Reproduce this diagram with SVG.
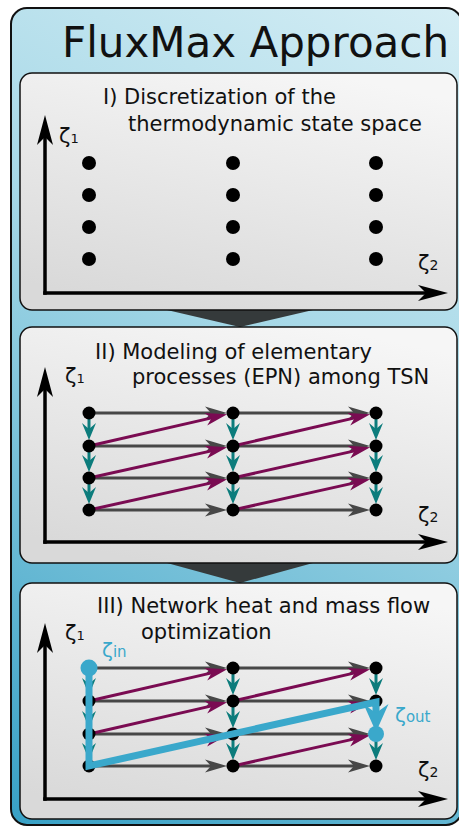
<svg xmlns="http://www.w3.org/2000/svg" width="459" height="827" viewBox="0 0 459 827">
<style>
text{font-family:"DejaVu Sans","Verdana",sans-serif;fill:#111}
.title{font-size:42px}
.h{font-size:21px}
.z{font-size:21px}
.sub{font-size:13px}
.panel{stroke:#111;stroke-width:1.5;fill:url(#pg)}
.axis{stroke:#000;stroke-width:3.5;fill:none;marker-end:url(#ma)}
.g{stroke:#474747;stroke-width:3;marker-end:url(#mg)}
.p{stroke:#7a0b52;stroke-width:3;marker-end:url(#mp)}
.t{stroke:#0c7c7c;stroke-width:3;marker-end:url(#mt)}
.n{fill:#000}
.blue{fill:#3aa8cb}
.bt{fill:#3aa8cb}
</style>
<defs>
<linearGradient id="og" gradientUnits="userSpaceOnUse" x1="459" y1="0" x2="0" y2="827">
<stop offset="0" stop-color="#d6eef5"/>
<stop offset="0.4" stop-color="#a6d8e7"/>
<stop offset="1" stop-color="#36a0c5"/>
</linearGradient>
<linearGradient id="pg" x1="0.7" y1="0" x2="0.3" y2="1">
<stop offset="0" stop-color="#f6f6f6"/>
<stop offset="1" stop-color="#d9d9d9"/>
</linearGradient>
<marker id="ma" viewBox="-31 -9 32 18" refX="-20" refY="0" markerWidth="32" markerHeight="18" markerUnits="userSpaceOnUse" orient="auto"><path d="M0,0 L-30,-8 L-22,0 L-30,8 Z" fill="#000"/></marker>
<marker id="mg" viewBox="-23 -7 24 14" refX="-8" refY="0" markerWidth="24" markerHeight="14" markerUnits="userSpaceOnUse" orient="auto"><path d="M0,0 L-22,-6.5 L-16,0 L-22,6.5 Z" fill="#474747"/></marker>
<marker id="mp" viewBox="-23 -7 24 14" refX="-8" refY="0" markerWidth="24" markerHeight="14" markerUnits="userSpaceOnUse" orient="auto"><path d="M0,0 L-22,-6.5 L-16,0 L-22,6.5 Z" fill="#7a0b52"/></marker>
<marker id="mt" viewBox="-18 -8 19 16" refX="-7" refY="0" markerWidth="19" markerHeight="16" markerUnits="userSpaceOnUse" orient="auto"><path d="M0,0 L-17,-7 L-11,0 L-17,7 Z" fill="#0c7c7c"/></marker>
<marker id="mb" viewBox="-29 -13 30 26" refX="-16" refY="0" markerWidth="30" markerHeight="26" markerUnits="userSpaceOnUse" orient="auto"><path d="M0,0 L-28,-12.5 L-19,0 L-28,12.5 Z" fill="#3aa8cb"/></marker>
</defs>

<g id="frame">
<rect x="11" y="8" width="451" height="817" rx="16" fill="url(#og)" stroke="#111" stroke-width="2"/>
<text class="title" x="62" y="57">FluxMax Approach</text>
</g>

<g id="connectors">
<polygon points="167,310 313,310 240,327" fill="#353a3b"/>
<polygon points="167,563 313,563 240,583" fill="#353a3b"/>
</g>

<g id="panel1">
<rect class="panel" x="20" y="73" width="437" height="237" rx="12"/>
<text class="h" x="103" y="104">I) Discretization of the</text>
<text class="h" x="128" y="131">thermodynamic state space</text>
<line class="axis" x1="45" y1="294.75" x2="45" y2="135"/>
<line class="axis" x1="43.25" y1="293" x2="428" y2="293"/>
<text class="z" x="59" y="143">ζ<tspan class="sub">1</tspan></text>
<text class="z" x="418" y="270">ζ<tspan font-size="14">2</tspan></text>
<g class="n">
<circle cx="89" cy="163" r="7"/><circle cx="89" cy="195" r="7"/><circle cx="89" cy="227" r="7"/><circle cx="89" cy="259" r="7"/>
<circle cx="233" cy="163" r="7"/><circle cx="233" cy="195" r="7"/><circle cx="233" cy="227" r="7"/><circle cx="233" cy="259" r="7"/>
<circle cx="376" cy="163" r="7"/><circle cx="376" cy="195" r="7"/><circle cx="376" cy="227" r="7"/><circle cx="376" cy="259" r="7"/>
</g>
</g>

<g id="panel2">
<rect class="panel" x="20" y="327" width="437" height="236" rx="12"/>
<text class="h" x="95" y="359">II) Modeling of elementary</text>
<text class="h" x="132" y="384">processes (EPN) among TSN</text>
<line class="axis" x1="45" y1="543.75" x2="45" y2="387"/>
<line class="axis" x1="43.25" y1="542" x2="428" y2="542"/>
<text class="z" x="65" y="383">ζ<tspan class="sub">1</tspan></text>
<text class="z" x="418" y="522">ζ<tspan font-size="14">2</tspan></text>
<g id="edges2">
<line class="g" x1="89" y1="413" x2="219" y2="413"/><line class="g" x1="233" y1="413" x2="362" y2="413"/>
<line class="g" x1="89" y1="446" x2="219" y2="446"/><line class="g" x1="233" y1="446" x2="362" y2="446"/>
<line class="g" x1="89" y1="478" x2="219" y2="478"/><line class="g" x1="233" y1="478" x2="362" y2="478"/>
<line class="g" x1="89" y1="510" x2="219" y2="510"/><line class="g" x1="233" y1="510" x2="362" y2="510"/>
<line class="p" x1="89" y1="446" x2="219.4" y2="416.1"/><line class="p" x1="233" y1="446" x2="362.4" y2="416.1"/>
<line class="p" x1="89" y1="478" x2="219.4" y2="449.1"/><line class="p" x1="233" y1="478" x2="362.4" y2="449.1"/>
<line class="p" x1="89" y1="510" x2="219.4" y2="481.1"/><line class="p" x1="233" y1="510" x2="362.4" y2="481.1"/>
<line class="t" x1="89" y1="413" x2="89" y2="433"/><line class="t" x1="89" y1="446" x2="89" y2="465"/><line class="t" x1="89" y1="478" x2="89" y2="497"/>
<line class="t" x1="233" y1="413" x2="233" y2="433"/><line class="t" x1="233" y1="446" x2="233" y2="465"/><line class="t" x1="233" y1="478" x2="233" y2="497"/>
<line class="t" x1="376" y1="413" x2="376" y2="433"/><line class="t" x1="376" y1="446" x2="376" y2="465"/><line class="t" x1="376" y1="478" x2="376" y2="497"/>
</g>
<g class="n">
<circle cx="89" cy="413" r="6.5"/><circle cx="89" cy="446" r="6.5"/><circle cx="89" cy="478" r="6.5"/><circle cx="89" cy="510" r="6.5"/>
<circle cx="233" cy="413" r="6.5"/><circle cx="233" cy="446" r="6.5"/><circle cx="233" cy="478" r="6.5"/><circle cx="233" cy="510" r="6.5"/>
<circle cx="376" cy="413" r="6.5"/><circle cx="376" cy="446" r="6.5"/><circle cx="376" cy="478" r="6.5"/><circle cx="376" cy="510" r="6.5"/>
</g>
</g>

<g id="panel3">
<rect class="panel" x="20" y="583" width="437" height="236" rx="12"/>
<text class="h" x="97" y="613">III) Network heat and mass flow</text>
<text class="h" x="141" y="639">optimization</text>
<line class="axis" x1="45" y1="800.75" x2="45" y2="643"/>
<line class="axis" x1="43.25" y1="799" x2="428" y2="799"/>
<text class="z" x="65" y="640">ζ<tspan class="sub">1</tspan></text>
<text class="z" x="418" y="777">ζ<tspan font-size="14">2</tspan></text>
<g id="edges3">
<line class="g" x1="89" y1="668" x2="219" y2="668"/><line class="g" x1="233" y1="668" x2="362" y2="668"/>
<line class="g" x1="89" y1="701" x2="219" y2="701"/><line class="g" x1="233" y1="701" x2="362" y2="701"/>
<line class="g" x1="89" y1="734" x2="219" y2="734"/><line class="g" x1="233" y1="734" x2="362" y2="734"/>
<line class="g" x1="89" y1="766" x2="219" y2="766"/><line class="g" x1="233" y1="766" x2="362" y2="766"/>
<line class="p" x1="89" y1="701" x2="219.4" y2="671.1"/><line class="p" x1="233" y1="701" x2="362.4" y2="671.1"/>
<line class="p" x1="89" y1="734" x2="219.4" y2="704.1"/><line class="p" x1="233" y1="734" x2="362.4" y2="704.1"/>
<line class="p" x1="89" y1="766" x2="219.4" y2="737.1"/><line class="p" x1="233" y1="766" x2="362.4" y2="737.1"/>
<line class="t" x1="89" y1="668" x2="89" y2="688"/><line class="t" x1="89" y1="701" x2="89" y2="721"/><line class="t" x1="89" y1="734" x2="89" y2="753"/>
<line class="t" x1="233" y1="668" x2="233" y2="688"/><line class="t" x1="233" y1="701" x2="233" y2="721"/><line class="t" x1="233" y1="734" x2="233" y2="753"/>
<line class="t" x1="376" y1="668" x2="376" y2="688"/><line class="t" x1="376" y1="701" x2="376" y2="721"/><line class="t" x1="376" y1="734" x2="376" y2="753"/>
</g>
<g class="n">
<circle cx="89" cy="701" r="6.5"/><circle cx="89" cy="734" r="6.5"/><circle cx="89" cy="766" r="6.5"/>
<circle cx="233" cy="668" r="6.5"/><circle cx="233" cy="701" r="6.5"/><circle cx="233" cy="734" r="6.5"/><circle cx="233" cy="766" r="6.5"/>
<circle cx="376" cy="668" r="6.5"/><circle cx="376" cy="701" r="6.5"/><circle cx="376" cy="766" r="6.5"/>
</g>
<g id="optimal-path">
<path d="M89,668 L89,766 L376,702 L376,716" fill="none" stroke="#3aa8cb" stroke-width="7" stroke-linejoin="miter" marker-end="url(#mb)"/>
<circle class="blue" cx="89" cy="668" r="8.5"/>
<circle class="blue" cx="376" cy="734" r="8"/>
<text class="bt" x="102" y="657" font-size="20">ζ<tspan font-size="15">in</tspan></text>
<text class="bt" x="395" y="722" font-size="20">ζ<tspan font-size="15">out</tspan></text>
</g>
</g>
</svg>
